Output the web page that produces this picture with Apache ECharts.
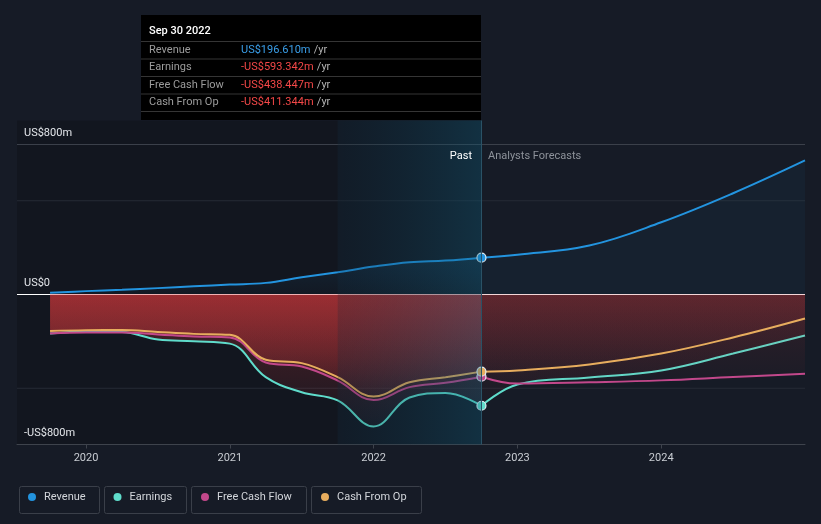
<!DOCTYPE html>
<html><head><meta charset="utf-8">
<script src="https://cdn.jsdelivr.net/npm/echarts@6/dist/echarts.min.js"></script>
<style>html,body{margin:0;padding:0;background:#161b26;}#c{width:821px;height:524px;}</style>
</head><body><div id="c"></div>
<script>
// ---- data (US$ millions, x = decimal year) ----
const pastDates = [2019.75, 2020.0, 2020.25, 2020.5, 2020.75, 2021.0, 2021.25, 2021.5, 2021.75, 2022.0, 2022.25, 2022.5, 2022.75];
const forecastDates = [2022.75, 2023.0, 2023.5, 2024.0, 2024.5, 2025.0];

const revenuePast = [9, 18, 25, 34, 44, 53, 62, 92, 119, 149, 172, 181, 196.61];
const earningsPast = [-208, -197, -200, -240, -249, -262, -441, -521, -565, -704, -549, -525, -593.342];
const fcfPast = [-208, -203, -203, -213, -224, -229, -363, -384, -459, -563, -494, -471, -438.447];
const cfoPast = [-195, -190, -189, -200, -210, -215, -348, -366, -441, -544, -468, -441, -411.344];

const revenueForecast = [196.61, 212, 261, 385, 540, 715];
const earningsForecast = [-593.342, -480, -443, -405, -315, -219];
const fcfForecast = [-438.447, -475, -468, -458, -440, -423];
const cfoForecast = [-411.344, -405, -373, -315, -229, -128];

const xTickValues = [2020, 2021, 2022, 2023, 2024];
const yLabelValues = [-800, 0, 800];
const gridValues = [800, 500, 0, -500];
const highlightStart = 2021.75;
const nowDate = 2022.75;
const tooltipTitle = 'Sep 30 2022';

const names = ['Revenue', 'Earnings', 'Free Cash Flow', 'Cash From Op'];
const colors = ['#2394df', '#5fdccb', '#c2488b', '#e7ad5e'];
const pastSets = [revenuePast, earningsPast, fcfPast, cfoPast];
const forecastSets = [revenueForecast, earningsForecast, fcfForecast, cfoForecast];

// ---- build ----
const FONT = 'Roboto';
const xMin = 2019.52, xMax = 2025.0;

function pairs(dates, vals) { return dates.map((d, i) => [d, vals[i]]); }

function areaColor(i, past) {
  if (i === 0) {
    return past
      ? {type:'linear',x:0,y:0,x2:0,y2:1,colorStops:[{offset:0,color:'rgba(35,148,223,0.16)'},{offset:1,color:'rgba(35,148,223,0.03)'}]}
      : 'rgba(35,148,223,0.07)';
  }
  const a0 = past ? 0.44 : 0.2, a1 = past ? 0.05 : 0.03;
  return {type:'linear',x:0,y:0,x2:0,y2:1,colorStops:[{offset:0,color:'rgba(222,58,60,' + a0 + ')'},{offset:1,color:'rgba(222,58,60,' + a1 + ')'}]};
}

const series = [];
// darkening of early past
series.push({
  type: 'line', name: '_dark', data: [], z: 0, silent: true, symbol: 'none',
  markArea: { silent: true, z: 0, itemStyle: { color: 'rgba(0,0,0,0.16)' }, data: [[{ xAxis: xMin }, { xAxis: highlightStart }]] }
});
// gridlines as plain horizontal series drawn beneath the areas
gridValues.forEach(v => {
  series.push({
    type: 'line', name: '_grid' + v, z: 1, silent: true, symbol: 'none', showSymbol: false,
    data: [[xMin, v], [xMax, v]],
    lineStyle: { type: 'solid', width: 1, color: v === 0 ? '#ffffff' : (v === 800 ? '#3b404a' : '#262b36') },
    emphasis: { disabled: true }, tooltip: { show: false }
  });
});

names.forEach((n, i) => {
  series.push({
    type: 'line', name: n, z: 3 + i * 0.1, smooth: 0.4, symbol: 'none', showSymbol: false,
    data: pairs(pastDates, pastSets[i]),
    lineStyle: { color: colors[i], width: 2 }, itemStyle: { color: colors[i] },
    areaStyle: { color: areaColor(i, true) },
    emphasis: { disabled: true }
  });
  const fd = pairs(forecastDates, forecastSets[i]).map((p, k) => k === 0
    ? { value: p, symbol: 'circle', symbolSize: 9, itemStyle: { color: colors[i], borderColor: '#e3eff5', borderWidth: 1.2 } }
    : { value: p, symbol: 'none' });
  series.push({
    type: 'line', name: n, z: 4 + i * 0.1, smooth: 0.4, symbol: 'none', showSymbol: true, showAllSymbol: true,
    data: fd,
    lineStyle: { color: colors[i], width: 2 }, itemStyle: { color: colors[i] },
    areaStyle: { color: areaColor(i, false) },
    emphasis: { disabled: true }
  });
});

// highlight band overlay + now line
series.push({
  type: 'line', name: '_band', data: [], z: 10, silent: true, symbol: 'none',
  markArea: {
    silent: true, z: 20,
    itemStyle: { color: { type:'linear', x:0, y:0, x2:1, y2:0, colorStops:[{offset:0,color:'rgba(0,30,45,0.2)'},{offset:1,color:'rgba(10,95,125,0.32)'}] } },
    data: [[{ xAxis: highlightStart }, { xAxis: nowDate }]]
  },
  markLine: {
    silent: true, z: 21, symbol: ['none', 'none'], label: { show: false },
    lineStyle: { type: 'solid', color: '#2a5266', width: 1 },
    data: [{ xAxis: nowDate }]
  }
});

function fmtM(v) { return (v < 0 ? '-' : '') + 'US$' + Math.abs(v).toFixed(3) + 'm'; }
function fmtAxis(v) { return v === 0 ? 'US$0' : (v < 0 ? '-US$' + Math.abs(v) + 'm' : 'US$' + v + 'm'); }

const graphic = [];
// tooltip box
const tipRows = names.map((n, i) => ({ label: n, value: pastSets[i][pastSets[i].length - 1] }));
graphic.push({ type: 'rect', left: 141, top: 15, shape: { width: 340, height: 105 }, style: { fill: '#000000' }, z: 100 });
graphic.push({ type: 'text', x: 149, y: 31.5, style: { text: tooltipTitle, fill: '#ffffff', font: '500 11px ' + FONT, verticalAlign: 'middle' }, z: 101 });
[41, 58.5, 76, 93.5, 111].forEach(y => {
  graphic.push({ type: 'line', shape: { x1: 141, y1: y + 0.5, x2: 481, y2: y + 0.5 }, style: { stroke: '#353535', lineWidth: 1 }, z: 101 });
});
tipRows.forEach((r, k) => {
  const y = 50.3 + k * 17.4;
  graphic.push({ type: 'text', x: 149, y: y, style: { text: r.label, fill: '#9c9c9c', font: '11px ' + FONT, verticalAlign: 'middle' }, z: 101 });
  graphic.push({ type: 'text', x: 241, y: y, style: {
    text: '{v|' + fmtM(r.value) + '} {u|/yr}', verticalAlign: 'middle',
    rich: { v: { fill: r.value < 0 ? '#f44848' : '#3a9fea', font: '11px ' + FONT }, u: { fill: '#b3b3b3', font: '11px ' + FONT } }
  }, z: 101 });
});
// Past / Forecast labels
graphic.push({ type: 'text', x: 472, y: 156.5, style: { text: 'Past', fill: '#ffffff', font: '11px ' + FONT, align: 'right', verticalAlign: 'middle' }, z: 50 });
graphic.push({ type: 'text', x: 488, y: 156.5, style: { text: 'Analysts Forecasts', fill: '#8d929a', font: '11px ' + FONT, align: 'left', verticalAlign: 'middle' }, z: 50 });
// legend boxes
const boxes = [[17, 80], [102, 82], [189, 115], [309, 110]];
boxes.forEach(b => {
  graphic.push({ type: 'rect', left: b[0], top: 484, shape: { width: b[1], height: 27, r: 2 }, style: { fill: 'none', stroke: '#3a3f49', lineWidth: 1 }, z: 1 });
});
const legendLefts = [28, 113.5, 201, 321];
const legend = names.map((n, i) => ({
  data: [n], left: legendLefts[i], top: 491.5, padding: 0, icon: 'circle', itemWidth: 8, itemHeight: 8,
  textStyle: { color: '#d3d6db', fontSize: 11, fontFamily: FONT, padding: [0, 0, 0, 3] },
  inactiveColor: '#555'
}));

const chart = echarts.init(document.getElementById('c'), null, { renderer: 'canvas' });
chart.setOption({
  backgroundColor: '#161b26',
  animation: false,
  textStyle: { fontFamily: FONT },
  grid: { left: 17, right: 16, top: 120.5, bottom: 79.5, containLabel: false },
  xAxis: {
    type: 'value', min: xMin, max: xMax,
    axisLine: { show: true, onZero: false, lineStyle: { color: '#3e434c' } },
    axisTick: { show: true, customValues: xTickValues, length: 4, lineStyle: { color: '#3e434c' } },
    axisLabel: { customValues: xTickValues, color: '#c9cdd3', fontSize: 11, fontFamily: FONT, margin: 8, formatter: v => String(v) },
    splitLine: { show: false }
  },
  yAxis: {
    type: 'value', min: -800, max: 928,
    axisLine: { show: false }, axisTick: { show: false }, splitLine: { show: false },
    axisLabel: { customValues: yLabelValues, inside: true, margin: 7, color: '#e3e6ea', fontSize: 11, fontFamily: FONT, verticalAlign: 'bottom', padding: [0, 0, 6, 0], formatter: fmtAxis }
  },
  legend: legend,
  series: series,
  graphic: graphic
});
</script></body></html>
